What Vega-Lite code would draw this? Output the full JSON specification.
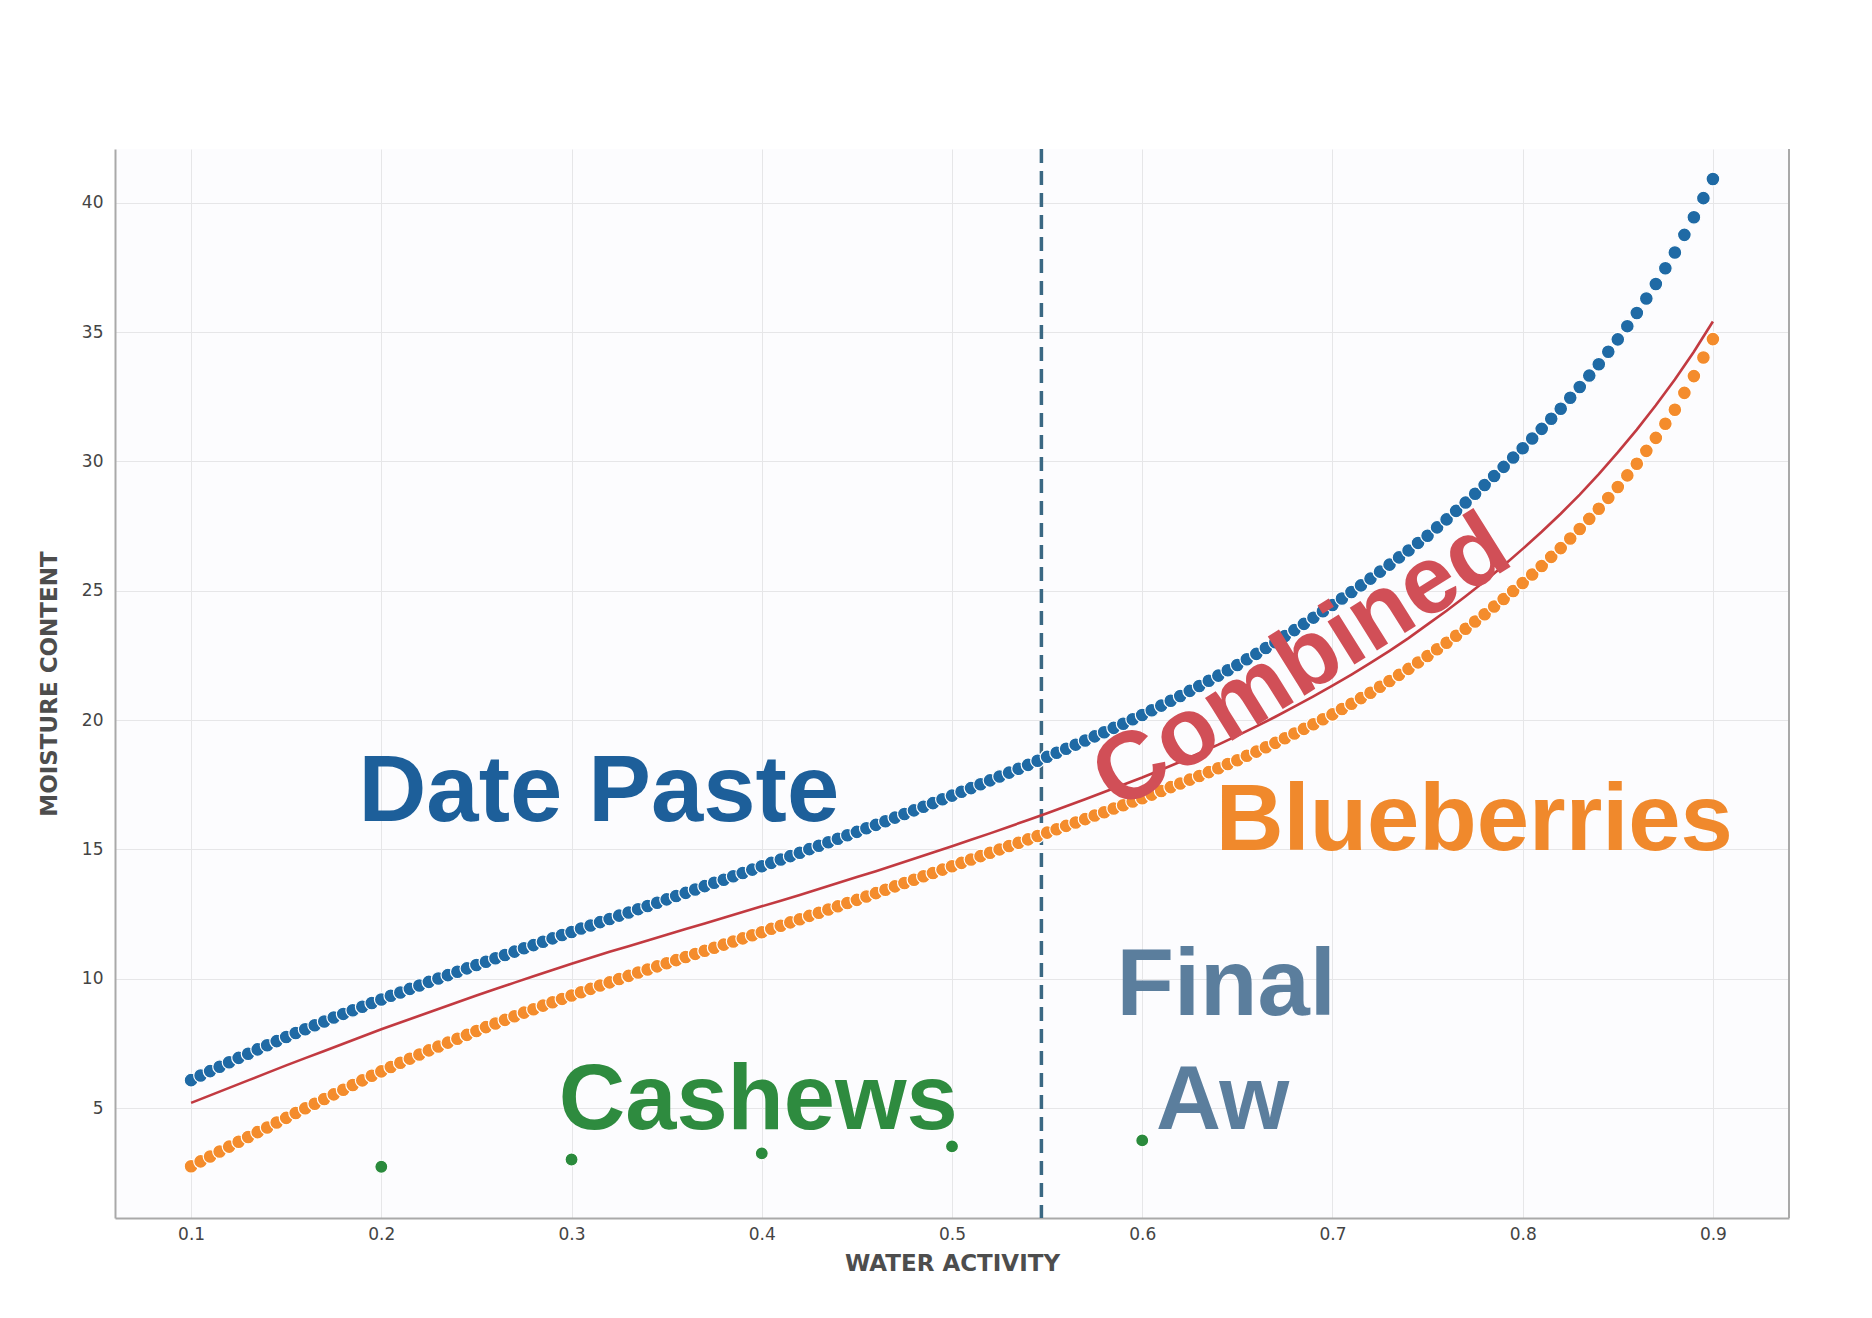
{
  "$schema": "https://vega.github.io/schema/vega-lite/v6.json",
  "width": 1674,
  "height": 1069,
  "autosize": {"type": "none"},
  "padding": {"left": 115, "top": 149, "right": 83, "bottom": 100},
  "background": "white",
  "config": {
    "view": {"stroke": null, "fill": "#fcfcfe"},
    "axis": {
      "grid": true, "gridColor": "#e6e6e8", "gridWidth": 1,
      "domainColor": "#a9a9a9", "domainWidth": 2, "ticks": false,
      "labelFont": "DejaVu Sans", "labelFontSize": 17, "labelColor": "#444444",
      "titleFont": "DejaVu Sans", "titleFontSize": 23, "titleFontWeight": "bold", "titleColor": "#4d4d4d"
    }
  },
  "datasets": {
    "one": [{}],
    "dots": [
      {"aw":0.1,"date_paste":6.08,"blueberries":2.75},
      {"aw":0.105,"date_paste":6.26,"blueberries":2.94},
      {"aw":0.11,"date_paste":6.43,"blueberries":3.13},
      {"aw":0.115,"date_paste":6.60,"blueberries":3.32},
      {"aw":0.12,"date_paste":6.77,"blueberries":3.51},
      {"aw":0.125,"date_paste":6.94,"blueberries":3.70},
      {"aw":0.13,"date_paste":7.10,"blueberries":3.88},
      {"aw":0.135,"date_paste":7.27,"blueberries":4.07},
      {"aw":0.14,"date_paste":7.43,"blueberries":4.25},
      {"aw":0.145,"date_paste":7.59,"blueberries":4.44},
      {"aw":0.15,"date_paste":7.75,"blueberries":4.62},
      {"aw":0.155,"date_paste":7.90,"blueberries":4.81},
      {"aw":0.16,"date_paste":8.05,"blueberries":4.99},
      {"aw":0.165,"date_paste":8.20,"blueberries":5.17},
      {"aw":0.17,"date_paste":8.35,"blueberries":5.35},
      {"aw":0.175,"date_paste":8.50,"blueberries":5.53},
      {"aw":0.18,"date_paste":8.64,"blueberries":5.71},
      {"aw":0.185,"date_paste":8.78,"blueberries":5.89},
      {"aw":0.19,"date_paste":8.92,"blueberries":6.07},
      {"aw":0.195,"date_paste":9.06,"blueberries":6.25},
      {"aw":0.2,"date_paste":9.20,"blueberries":6.42},
      {"aw":0.205,"date_paste":9.34,"blueberries":6.59},
      {"aw":0.21,"date_paste":9.47,"blueberries":6.75},
      {"aw":0.215,"date_paste":9.61,"blueberries":6.91},
      {"aw":0.22,"date_paste":9.74,"blueberries":7.07},
      {"aw":0.225,"date_paste":9.88,"blueberries":7.23},
      {"aw":0.23,"date_paste":10.01,"blueberries":7.38},
      {"aw":0.235,"date_paste":10.14,"blueberries":7.53},
      {"aw":0.24,"date_paste":10.27,"blueberries":7.68},
      {"aw":0.245,"date_paste":10.40,"blueberries":7.83},
      {"aw":0.25,"date_paste":10.53,"blueberries":7.98},
      {"aw":0.255,"date_paste":10.66,"blueberries":8.13},
      {"aw":0.26,"date_paste":10.79,"blueberries":8.27},
      {"aw":0.265,"date_paste":10.92,"blueberries":8.41},
      {"aw":0.27,"date_paste":11.05,"blueberries":8.55},
      {"aw":0.275,"date_paste":11.18,"blueberries":8.69},
      {"aw":0.28,"date_paste":11.30,"blueberries":8.82},
      {"aw":0.285,"date_paste":11.43,"blueberries":8.96},
      {"aw":0.29,"date_paste":11.56,"blueberries":9.09},
      {"aw":0.295,"date_paste":11.69,"blueberries":9.22},
      {"aw":0.3,"date_paste":11.81,"blueberries":9.35},
      {"aw":0.305,"date_paste":11.94,"blueberries":9.48},
      {"aw":0.31,"date_paste":12.06,"blueberries":9.61},
      {"aw":0.315,"date_paste":12.19,"blueberries":9.74},
      {"aw":0.32,"date_paste":12.31,"blueberries":9.86},
      {"aw":0.325,"date_paste":12.44,"blueberries":9.99},
      {"aw":0.33,"date_paste":12.56,"blueberries":10.11},
      {"aw":0.335,"date_paste":12.69,"blueberries":10.24},
      {"aw":0.34,"date_paste":12.81,"blueberries":10.36},
      {"aw":0.345,"date_paste":12.94,"blueberries":10.48},
      {"aw":0.35,"date_paste":13.07,"blueberries":10.60},
      {"aw":0.355,"date_paste":13.20,"blueberries":10.72},
      {"aw":0.36,"date_paste":13.32,"blueberries":10.84},
      {"aw":0.365,"date_paste":13.45,"blueberries":10.96},
      {"aw":0.37,"date_paste":13.58,"blueberries":11.08},
      {"aw":0.375,"date_paste":13.71,"blueberries":11.20},
      {"aw":0.38,"date_paste":13.83,"blueberries":11.32},
      {"aw":0.385,"date_paste":13.96,"blueberries":11.44},
      {"aw":0.39,"date_paste":14.09,"blueberries":11.56},
      {"aw":0.395,"date_paste":14.22,"blueberries":11.68},
      {"aw":0.4,"date_paste":14.35,"blueberries":11.80},
      {"aw":0.405,"date_paste":14.48,"blueberries":11.93},
      {"aw":0.41,"date_paste":14.61,"blueberries":12.05},
      {"aw":0.415,"date_paste":14.74,"blueberries":12.18},
      {"aw":0.42,"date_paste":14.87,"blueberries":12.30},
      {"aw":0.425,"date_paste":15.01,"blueberries":12.43},
      {"aw":0.43,"date_paste":15.14,"blueberries":12.55},
      {"aw":0.435,"date_paste":15.28,"blueberries":12.68},
      {"aw":0.44,"date_paste":15.41,"blueberries":12.80},
      {"aw":0.445,"date_paste":15.55,"blueberries":12.93},
      {"aw":0.45,"date_paste":15.68,"blueberries":13.05},
      {"aw":0.455,"date_paste":15.82,"blueberries":13.18},
      {"aw":0.46,"date_paste":15.95,"blueberries":13.31},
      {"aw":0.465,"date_paste":16.09,"blueberries":13.44},
      {"aw":0.47,"date_paste":16.23,"blueberries":13.57},
      {"aw":0.475,"date_paste":16.37,"blueberries":13.70},
      {"aw":0.48,"date_paste":16.51,"blueberries":13.83},
      {"aw":0.485,"date_paste":16.65,"blueberries":13.96},
      {"aw":0.49,"date_paste":16.79,"blueberries":14.09},
      {"aw":0.495,"date_paste":16.94,"blueberries":14.22},
      {"aw":0.5,"date_paste":17.08,"blueberries":14.35},
      {"aw":0.505,"date_paste":17.23,"blueberries":14.48},
      {"aw":0.51,"date_paste":17.37,"blueberries":14.61},
      {"aw":0.515,"date_paste":17.52,"blueberries":14.74},
      {"aw":0.52,"date_paste":17.67,"blueberries":14.87},
      {"aw":0.525,"date_paste":17.82,"blueberries":15.00},
      {"aw":0.53,"date_paste":17.97,"blueberries":15.13},
      {"aw":0.535,"date_paste":18.12,"blueberries":15.26},
      {"aw":0.54,"date_paste":18.27,"blueberries":15.39},
      {"aw":0.545,"date_paste":18.43,"blueberries":15.52},
      {"aw":0.55,"date_paste":18.58,"blueberries":15.65},
      {"aw":0.555,"date_paste":18.74,"blueberries":15.78},
      {"aw":0.56,"date_paste":18.89,"blueberries":15.91},
      {"aw":0.565,"date_paste":19.05,"blueberries":16.04},
      {"aw":0.57,"date_paste":19.21,"blueberries":16.17},
      {"aw":0.575,"date_paste":19.37,"blueberries":16.31},
      {"aw":0.58,"date_paste":19.53,"blueberries":16.44},
      {"aw":0.585,"date_paste":19.70,"blueberries":16.58},
      {"aw":0.59,"date_paste":19.86,"blueberries":16.71},
      {"aw":0.595,"date_paste":20.03,"blueberries":16.85},
      {"aw":0.6,"date_paste":20.20,"blueberries":16.98},
      {"aw":0.605,"date_paste":20.38,"blueberries":17.12},
      {"aw":0.61,"date_paste":20.56,"blueberries":17.26},
      {"aw":0.615,"date_paste":20.75,"blueberries":17.41},
      {"aw":0.62,"date_paste":20.93,"blueberries":17.55},
      {"aw":0.625,"date_paste":21.13,"blueberries":17.70},
      {"aw":0.63,"date_paste":21.32,"blueberries":17.84},
      {"aw":0.635,"date_paste":21.52,"blueberries":17.99},
      {"aw":0.64,"date_paste":21.72,"blueberries":18.14},
      {"aw":0.645,"date_paste":21.93,"blueberries":18.30},
      {"aw":0.65,"date_paste":22.13,"blueberries":18.45},
      {"aw":0.655,"date_paste":22.35,"blueberries":18.62},
      {"aw":0.66,"date_paste":22.56,"blueberries":18.78},
      {"aw":0.665,"date_paste":22.79,"blueberries":18.95},
      {"aw":0.67,"date_paste":23.01,"blueberries":19.12},
      {"aw":0.675,"date_paste":23.25,"blueberries":19.30},
      {"aw":0.68,"date_paste":23.48,"blueberries":19.48},
      {"aw":0.685,"date_paste":23.72,"blueberries":19.66},
      {"aw":0.69,"date_paste":23.96,"blueberries":19.84},
      {"aw":0.695,"date_paste":24.21,"blueberries":20.03},
      {"aw":0.7,"date_paste":24.45,"blueberries":20.22},
      {"aw":0.705,"date_paste":24.70,"blueberries":20.43},
      {"aw":0.71,"date_paste":24.95,"blueberries":20.63},
      {"aw":0.715,"date_paste":25.21,"blueberries":20.85},
      {"aw":0.72,"date_paste":25.47,"blueberries":21.06},
      {"aw":0.725,"date_paste":25.74,"blueberries":21.29},
      {"aw":0.73,"date_paste":26.01,"blueberries":21.51},
      {"aw":0.735,"date_paste":26.29,"blueberries":21.75},
      {"aw":0.74,"date_paste":26.56,"blueberries":21.98},
      {"aw":0.745,"date_paste":26.85,"blueberries":22.23},
      {"aw":0.75,"date_paste":27.13,"blueberries":22.48},
      {"aw":0.755,"date_paste":27.45,"blueberries":22.74},
      {"aw":0.76,"date_paste":27.76,"blueberries":22.99},
      {"aw":0.765,"date_paste":28.09,"blueberries":23.26},
      {"aw":0.77,"date_paste":28.41,"blueberries":23.53},
      {"aw":0.775,"date_paste":28.75,"blueberries":23.81},
      {"aw":0.78,"date_paste":29.09,"blueberries":24.09},
      {"aw":0.785,"date_paste":29.44,"blueberries":24.39},
      {"aw":0.79,"date_paste":29.79,"blueberries":24.68},
      {"aw":0.795,"date_paste":30.15,"blueberries":24.99},
      {"aw":0.8,"date_paste":30.51,"blueberries":25.30},
      {"aw":0.805,"date_paste":30.89,"blueberries":25.63},
      {"aw":0.81,"date_paste":31.26,"blueberries":25.96},
      {"aw":0.815,"date_paste":31.65,"blueberries":26.31},
      {"aw":0.82,"date_paste":32.04,"blueberries":26.65},
      {"aw":0.825,"date_paste":32.46,"blueberries":27.02},
      {"aw":0.83,"date_paste":32.88,"blueberries":27.39},
      {"aw":0.835,"date_paste":33.32,"blueberries":27.78},
      {"aw":0.84,"date_paste":33.76,"blueberries":28.17},
      {"aw":0.845,"date_paste":34.24,"blueberries":28.59},
      {"aw":0.85,"date_paste":34.72,"blueberries":29.01},
      {"aw":0.855,"date_paste":35.23,"blueberries":29.46},
      {"aw":0.86,"date_paste":35.74,"blueberries":29.91},
      {"aw":0.865,"date_paste":36.30,"blueberries":30.41},
      {"aw":0.87,"date_paste":36.86,"blueberries":30.91},
      {"aw":0.875,"date_paste":37.47,"blueberries":31.46},
      {"aw":0.88,"date_paste":38.08,"blueberries":32.00},
      {"aw":0.885,"date_paste":38.76,"blueberries":32.65},
      {"aw":0.89,"date_paste":39.44,"blueberries":33.30},
      {"aw":0.895,"date_paste":40.18,"blueberries":34.02},
      {"aw":0.9,"date_paste":40.92,"blueberries":34.73}
    ],
    "combined": [
      {"aw":0.1,"moisture":5.20},{"aw":0.11,"moisture":5.49},{"aw":0.12,"moisture":5.78},{"aw":0.13,"moisture":6.07},{"aw":0.14,"moisture":6.36},
      {"aw":0.15,"moisture":6.65},{"aw":0.16,"moisture":6.93},{"aw":0.17,"moisture":7.21},{"aw":0.18,"moisture":7.49},{"aw":0.19,"moisture":7.77},
      {"aw":0.2,"moisture":8.05},{"aw":0.21,"moisture":8.31},{"aw":0.22,"moisture":8.57},{"aw":0.23,"moisture":8.83},{"aw":0.24,"moisture":9.09},
      {"aw":0.25,"moisture":9.35},{"aw":0.26,"moisture":9.60},{"aw":0.27,"moisture":9.85},{"aw":0.28,"moisture":10.10},{"aw":0.29,"moisture":10.34},
      {"aw":0.3,"moisture":10.58},{"aw":0.31,"moisture":10.81},{"aw":0.32,"moisture":11.04},{"aw":0.33,"moisture":11.26},{"aw":0.34,"moisture":11.48},
      {"aw":0.35,"moisture":11.70},{"aw":0.36,"moisture":11.92},{"aw":0.37,"moisture":12.14},{"aw":0.38,"moisture":12.36},{"aw":0.39,"moisture":12.58},
      {"aw":0.4,"moisture":12.80},{"aw":0.41,"moisture":13.02},{"aw":0.42,"moisture":13.24},{"aw":0.43,"moisture":13.47},{"aw":0.44,"moisture":13.70},
      {"aw":0.45,"moisture":13.93},{"aw":0.46,"moisture":14.16},{"aw":0.47,"moisture":14.40},{"aw":0.48,"moisture":14.64},{"aw":0.49,"moisture":14.88},
      {"aw":0.5,"moisture":15.12},{"aw":0.51,"moisture":15.37},{"aw":0.52,"moisture":15.62},{"aw":0.53,"moisture":15.88},{"aw":0.54,"moisture":16.14},
      {"aw":0.55,"moisture":16.40},{"aw":0.56,"moisture":16.67},{"aw":0.57,"moisture":16.94},{"aw":0.58,"moisture":17.22},{"aw":0.59,"moisture":17.50},
      {"aw":0.6,"moisture":17.78},{"aw":0.61,"moisture":18.08},{"aw":0.62,"moisture":18.39},{"aw":0.63,"moisture":18.72},{"aw":0.64,"moisture":19.05},
      {"aw":0.65,"moisture":19.40},{"aw":0.66,"moisture":19.76},{"aw":0.67,"moisture":20.13},{"aw":0.68,"moisture":20.52},{"aw":0.69,"moisture":20.92},
      {"aw":0.7,"moisture":21.33},{"aw":0.71,"moisture":21.76},{"aw":0.72,"moisture":22.21},{"aw":0.73,"moisture":22.68},{"aw":0.74,"moisture":23.17},
      {"aw":0.75,"moisture":23.70},{"aw":0.76,"moisture":24.23},{"aw":0.77,"moisture":24.79},{"aw":0.78,"moisture":25.37},{"aw":0.79,"moisture":25.98},
      {"aw":0.8,"moisture":26.62},{"aw":0.81,"moisture":27.28},{"aw":0.82,"moisture":27.98},{"aw":0.83,"moisture":28.72},{"aw":0.84,"moisture":29.51},
      {"aw":0.85,"moisture":30.35},{"aw":0.86,"moisture":31.23},{"aw":0.87,"moisture":32.17},{"aw":0.88,"moisture":33.17},{"aw":0.89,"moisture":34.24},
      {"aw":0.9,"moisture":35.41}
    ],
    "cashews": [
      {"aw":0.2,"moisture":2.73},
      {"aw":0.3,"moisture":3.01},
      {"aw":0.4,"moisture":3.25},
      {"aw":0.5,"moisture":3.52},
      {"aw":0.6,"moisture":3.75}
    ]
  },
  "layer": [
    {
      "data": {"name": "one"},
      "mark": {"type": "rule", "color": "#a9a9a9", "strokeWidth": 2},
      "encoding": {"x": {"datum": 0.94, "type": "quantitative", "title": "WATER ACTIVITY",
              "scale": {"domain": [0.06, 0.94], "nice": false, "zero": false},
              "axis": {"values": [0.1,0.2,0.3,0.4,0.5,0.6,0.7,0.8,0.9], "format": ".1f", "labelPadding": 8, "titlePadding": 10}}}
    },
    {
      "data": {"name": "one"},
      "mark": {"type": "rule", "color": "#3a6883", "strokeWidth": 3.5, "strokeDash": [14, 8]},
      "encoding": {"x": {"datum": 0.547, "type": "quantitative", "title": "WATER ACTIVITY"}}
    },
    {
      "data": {"name": "dots"},
      "mark": {"type": "point", "filled": true, "size": 190, "fill": "#1f6aa5", "stroke": "white", "strokeWidth": 1.2, "opacity": 1},
      "encoding": {
        "x": {"field": "aw", "type": "quantitative", "title": "WATER ACTIVITY",
              "scale": {"domain": [0.06, 0.94], "nice": false, "zero": false}},
        "y": {"field": "date_paste", "type": "quantitative", "title": "MOISTURE CONTENT",
              "scale": {"domain": [0.75, 42.08], "nice": false, "zero": false},
              "axis": {"values": [5,10,15,20,25,30,35,40], "labelPadding": 12, "titlePadding": 20}}
      }
    },
    {
      "data": {"name": "dots"},
      "mark": {"type": "point", "filled": true, "size": 190, "fill": "#f48c2c", "stroke": "white", "strokeWidth": 1.2, "opacity": 1},
      "encoding": {
        "x": {"field": "aw", "type": "quantitative", "title": "WATER ACTIVITY"},
        "y": {"field": "blueberries", "type": "quantitative", "title": "MOISTURE CONTENT"}
      }
    },
    {
      "data": {"name": "combined"},
      "mark": {"type": "line", "color": "#c23a41", "strokeWidth": 2.6},
      "encoding": {
        "x": {"field": "aw", "type": "quantitative", "title": "WATER ACTIVITY"},
        "y": {"field": "moisture", "type": "quantitative", "title": "MOISTURE CONTENT"}
      }
    },
    {
      "data": {"name": "cashews"},
      "mark": {"type": "point", "filled": true, "size": 170, "fill": "#2a8a3c", "stroke": "white", "strokeWidth": 1.2, "opacity": 1},
      "encoding": {
        "x": {"field": "aw", "type": "quantitative", "title": "WATER ACTIVITY"},
        "y": {"field": "moisture", "type": "quantitative", "title": "MOISTURE CONTENT"}
      }
    },
    {
      "data": {"name": "one"},
      "mark": {"type": "text", "text": "Date Paste", "font": "Liberation Sans", "fontWeight": "bold", "fontSize": 94, "color": "#1d5f9a", "align": "left", "baseline": "alphabetic"},
      "encoding": {"x": {"datum": 0.188, "type": "quantitative", "title": "WATER ACTIVITY"}, "y": {"datum": 16.08, "type": "quantitative", "title": "MOISTURE CONTENT"}}
    },
    {
      "data": {"name": "one"},
      "mark": {"type": "text", "text": "Blueberries", "font": "Liberation Sans", "fontWeight": "bold", "fontSize": 94, "color": "#f0892c", "align": "left", "baseline": "alphabetic"},
      "encoding": {"x": {"datum": 0.6386, "type": "quantitative", "title": "WATER ACTIVITY"}, "y": {"datum": 14.97, "type": "quantitative", "title": "MOISTURE CONTENT"}}
    },
    {
      "data": {"name": "one"},
      "mark": {"type": "text", "text": "Cashews", "font": "Liberation Sans", "fontWeight": "bold", "fontSize": 92, "color": "#2e8b3f", "align": "left", "baseline": "alphabetic"},
      "encoding": {"x": {"datum": 0.2933, "type": "quantitative", "title": "WATER ACTIVITY"}, "y": {"datum": 4.21, "type": "quantitative", "title": "MOISTURE CONTENT"}}
    },
    {
      "data": {"name": "one"},
      "mark": {"type": "text", "text": "Final", "font": "Liberation Sans", "fontWeight": "bold", "fontSize": 94, "color": "#5b7e9d", "align": "left", "baseline": "alphabetic"},
      "encoding": {"x": {"datum": 0.5865, "type": "quantitative", "title": "WATER ACTIVITY"}, "y": {"datum": 8.60, "type": "quantitative", "title": "MOISTURE CONTENT"}}
    },
    {
      "data": {"name": "one"},
      "mark": {"type": "text", "text": "Aw", "font": "Liberation Sans", "fontWeight": "bold", "fontSize": 90, "color": "#5b7e9d", "align": "left", "baseline": "alphabetic"},
      "encoding": {"x": {"datum": 0.6072, "type": "quantitative", "title": "WATER ACTIVITY"}, "y": {"datum": 4.21, "type": "quantitative", "title": "MOISTURE CONTENT"}}
    },
    {
      "data": {"name": "one"},
      "mark": {"type": "text", "text": "Combined", "font": "Liberation Sans", "fontWeight": "bold", "fontSize": 96, "color": "#d14f57", "align": "center", "baseline": "middle", "angle": 328},
      "encoding": {"x": {"datum": 0.6838, "type": "quantitative", "title": "WATER ACTIVITY"}, "y": {"datum": 22.2, "type": "quantitative", "title": "MOISTURE CONTENT"}}
    }
  ]
}
